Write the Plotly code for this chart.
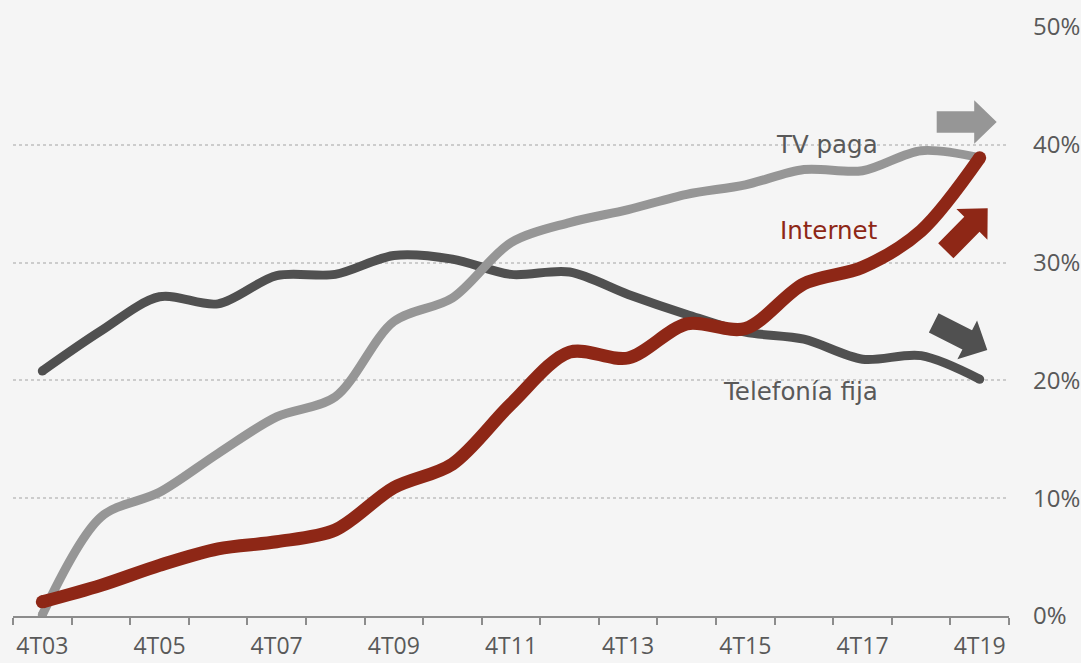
import math
import plotly.graph_objects as go

# ---------------- data ----------------
years = list(range(2003, 2020))
tick_years = [2003, 2005, 2007, 2009, 2011, 2013, 2015, 2017, 2019]
tick_labels = ["4T03", "4T05", "4T07", "4T09", "4T11", "4T13", "4T15", "4T17", "4T19"]

tv_paga = [0.1, 8.4, 10.5, 13.8, 16.9, 18.6, 25.0, 27.0, 31.7, 33.4, 34.5, 35.8, 36.6, 37.9, 37.8, 39.5, 38.9]
telefonia_fija = [20.8, 24.2, 27.1, 26.5, 28.9, 29.0, 30.6, 30.3, 29.0, 29.2, 27.3, 25.6, 24.1, 23.5, 21.8, 22.1, 20.1]
internet = [1.2, 2.6, 4.3, 5.7, 6.3, 7.3, 10.9, 12.9, 18.0, 22.4, 21.9, 24.8, 24.4, 28.2, 29.6, 32.7, 38.9]

y_ticks = [0, 10, 20, 30, 40, 50]
y_labels = ["0%", "10%", "20%", "30%", "40%", "50%"]

# ---------------- style ----------------
W, H = 1081, 663
ML, MR, MT, MB = 13, 72, 27, 47
BG = "#F5F5F5"
C_TV = "#969696"
C_TEL = "#505050"
C_NET = "#8E2716"
C_TXT = "#595959"
TICK_FONT = "Open Sans"
LABEL_FONT = "DejaVu Sans"

PW = W - ML - MR
PH = H - MT - MB


def px2paper(x, y):
    return (x - ML) / PW, (H - MB - y) / PH


def arrow_path(tail, tip, body_hw=10.7, head_hw=21.8, head_len=22.5):
    tx, ty = tail
    hx, hy = tip
    L = math.hypot(hx - tx, hy - ty)
    ux, uy = (hx - tx) / L, (hy - ty) / L
    nx, ny = -uy, ux
    bx, by = hx - ux * head_len, hy - uy * head_len
    pts = [
        (tx + nx * body_hw, ty + ny * body_hw),
        (bx + nx * body_hw, by + ny * body_hw),
        (bx + nx * head_hw, by + ny * head_hw),
        (hx, hy),
        (bx - nx * head_hw, by - ny * head_hw),
        (bx - nx * body_hw, by - ny * body_hw),
        (tx - nx * body_hw, ty - ny * body_hw),
    ]
    pp = [px2paper(x, y) for x, y in pts]
    return "M " + " L ".join(f"{a:.5f},{b:.5f}" for a, b in pp) + " Z"


fig = go.Figure()

series = [
    ("Telefonía fija", telefonia_fija, C_TEL, 9),
    ("TV paga", tv_paga, C_TV, 9),
    ("Internet", internet, C_NET, 13),
]

for name, vals, col, w in series:
    fig.add_trace(go.Scatter(
        x=years, y=vals, mode="lines", name=name,
        line=dict(color=col, width=w, shape="spline", smoothing=0.9),
        hoverinfo="skip", showlegend=False,
    ))
    fig.add_trace(go.Scatter(
        x=[years[0], years[-1]], y=[vals[0], vals[-1]], mode="markers",
        marker=dict(color=col, size=w, line=dict(width=0)),
        hoverinfo="skip", showlegend=False,
    ))

fig.update_layout(
    width=W, height=H,
    margin=dict(l=ML, r=MR, t=MT, b=MB, autoexpand=False),
    paper_bgcolor=BG, plot_bgcolor=BG,
    font=dict(family=TICK_FONT, size=24, color=C_TXT),
    showlegend=False,
)

fig.update_xaxes(
    range=[2002.5, 2019.5], automargin=False,
    tickmode="array", tickvals=tick_years, ticktext=tick_labels,
    ticks="", showgrid=False, zeroline=False,
    showline=True, linecolor="#8C8C8C", linewidth=2,
    tickfont=dict(family=TICK_FONT, size=23, color=C_TXT),
    ticklabelstandoff=8,
    minor=dict(tick0=2002.5, dtick=1, ticks="outside", ticklen=7,
               tickwidth=2, tickcolor="#8C8C8C", showgrid=False),
)

fig.update_yaxes(
    range=[0, 50], side="right", automargin=False,
    tickmode="array", tickvals=y_ticks, ticktext=y_labels,
    ticks="", showline=False, zeroline=False,
    showgrid=True, gridcolor="#CCCCCC", gridwidth=2, griddash="dot",
    tickfont=dict(family=TICK_FONT, size=24, color=C_TXT),
    ticklabelstandoff=23,
)

annots = [
    ("TV paga", 880, 144, C_TXT),
    ("Internet", 880, 230, C_NET),
    ("Telefonía fija", 880, 391, C_TXT),
]
for txt, x, y, col in annots:
    ax, ay = px2paper(x, y)
    fig.add_annotation(
        x=ax, y=ay, xref="paper", yref="paper", text=txt, showarrow=False,
        xanchor="right", yanchor="middle",
        font=dict(family=LABEL_FONT, size=24.5, color=col),
    )

arrows = [
    ((936.7, 122.0), (996.7, 122.0), C_TV),
    ((945.8, 250.8), (987.7, 208.3), C_NET),
    ((933.7, 322.9), (987.3, 350.0), C_TEL),
]
for tail, tip, col in arrows:
    fig.add_shape(type="path", xref="paper", yref="paper",
                  path=arrow_path(tail, tip), fillcolor=col,
                  line=dict(width=0), layer="above")

fig.write_html(
    "out.html",
    config={"displayModeBar": False},
    post_script="document.body.style.margin='0';document.body.style.background='#F5F5F5';",
)
